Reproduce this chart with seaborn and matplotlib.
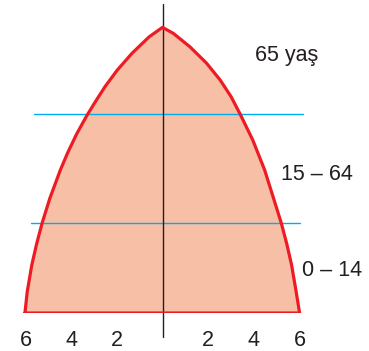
import numpy as np
import pandas as pd
import matplotlib
matplotlib.use("Agg")
import matplotlib.pyplot as plt
import seaborn as sns

# Sol kenar (yükseklik, genişlik)
sol_yukseklik = [0, 0.93, 2.10, 3.02, 3.93, 5.02, 6.26, 6.99, 7.83, 8.59, 9.18, 9.90, 10.63, 11.37, 12.09, 12.50]
sol_genislik = [-6.02, -5.92, -5.72, -5.51, -5.27, -4.93, -4.47, -4.16, -3.76, -3.34, -2.98, -2.52, -1.98, -1.33, -0.58, 0]

# Sağ kenar (tepeden tabana)
sag_yukseklik = [12.50, 12.24, 11.65, 10.93, 10.20, 9.47, 8.70, 7.57, 6.26, 5.02, 3.93, 3.02, 2.10, 0.93, 0]
sag_genislik = [0, 0.47, 1.20, 1.93, 2.52, 3.00, 3.40, 3.95, 4.47, 4.86, 5.20, 5.44, 5.65, 5.85, 6.00]

# Yaş grubu sınırları
sinir_yukseklik = [3.95, 8.70]
sinir_sol = [-5.75, -5.62]
sinir_sag = [6.02, 6.14]

# Eksen etiketleri
tikler = [-6, -4, -2, 2, 4, 6]
tik_etiketleri = ["6", "4", "2", "2", "4", "6"]

# Yaş grubu yazıları
etiketler = ["65 yaş", "15 – 64", "0 – 14"]
etiket_x = [5.43, 6.75, 7.44]
etiket_y = [11.27, 6.04, 1.88]

sns.set_theme(style="white")
plt.rcParams['font.family'] = ['Liberation Sans', 'DejaVu Sans']

# Dış çizgi verisi
x_cizgi = sol_genislik + sag_genislik + [sol_genislik[0]]
y_cizgi = sol_yukseklik + sag_yukseklik + [sol_yukseklik[0]]
df = pd.DataFrame({'x': x_cizgi, 'y': y_cizgi})

fig = plt.figure(figsize=(3.69, 3.51), dpi=100)
ax = fig.add_axes([0, 38 / 351, 1, 313 / 351])

ax.fill(df['x'], df['y'], color='#F8BFA7', lw=0, zorder=1)

# Mavi sınır çizgileri
for h, x0, x1 in zip(sinir_yukseklik, sinir_sol, sinir_sag):
    ax.plot([x0, x1], [h, h], color='#00AEEF', lw=1.0, zorder=2)

# Dikey eksen
ax.plot([0, 0], [13.52, -1.05], color='#231F20', lw=1.0, zorder=3, clip_on=False)

sns.lineplot(data=df, x='x', y='y', sort=False, estimator=None, color='#ED1C24',
             lw=2.3, ax=ax, zorder=4)
ax.lines[-1].set_solid_joinstyle('round')

for t, x, y in zip(etiketler, etiket_x, etiket_y):
    ax.text(x, y, t, ha='center', va='center', fontsize=15.5, color='#231F20')

ax.set_xlim(-162.5 / 22.85, (369 - 162.5) / 22.85)
ax.set_ylim(0, 313 / 22.85)
ax.set_xlabel('')
ax.set_ylabel('')
for s in ax.spines.values():
    s.set_visible(False)
ax.set_yticks([])
ax.set_xticks(tikler)
ax.set_xticklabels(tik_etiketleri)
ax.set_xticks([-4, -2, 2, 4], minor=True)
ax.tick_params(axis='x', which='major', length=0, pad=12, labelsize=15.5, colors='#231F20')
ax.tick_params(axis='x', which='minor', bottom=True, length=3, width=1, color='#231F20')

fig.savefig('out.png', dpi=100)
